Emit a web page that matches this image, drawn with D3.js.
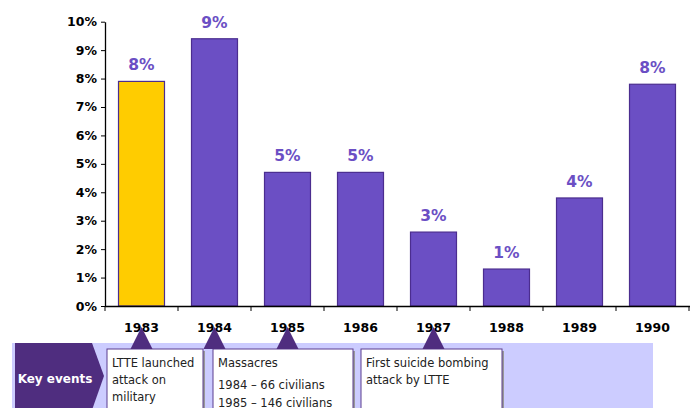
<!DOCTYPE html>
<html><head><meta charset="utf-8">
<script src="https://cdn.jsdelivr.net/npm/d3@7"></script>
<style>body{margin:0;background:#fff}svg{display:block}</style>
</head><body>
<svg id="c" width="690" height="408"></svg>
<script>
const years = ["1983","1984","1985","1986","1987","1988","1989","1990"];
const values = [7.9, 9.4, 4.7, 4.7, 2.6, 1.3, 3.8, 7.8];
const labels = ["8%","9%","5%","5%","3%","1%","4%","8%"];
const yTicks = [0,1,2,3,4,5,6,7,8,9,10];
const highlight = ["1983"];
const events = [
  {lines:["LTTE launched","attack on","military"], years:["1983"]},
  {lines:["Massacres","1984 – 66 civilians","1985 – 146 civilians"], years:["1984","1985"]},
  {lines:["First suicide bombing","attack by LTTE"], years:["1987"]}
];

const svg = d3.select("#c");
const font = "DejaVu Sans, Verdana, sans-serif";
const x = d3.scaleBand().domain(years).range([105, 689]).paddingInner(0.37).paddingOuter(0.185);
const y = d3.scaleLinear().domain([0, 10]).range([306, 21.7]);

// y axis
const ya = svg.append("g").attr("transform","translate(105,0)")
  .call(d3.axisLeft(y).tickValues(yTicks).tickFormat(d=>d+"%").tickSize(4).tickSizeOuter(0));
ya.select(".domain").attr("stroke","#000").attr("stroke-width",1.3);
ya.selectAll(".tick line").attr("stroke","#000");
ya.selectAll(".tick text").attr("font-family",font).attr("font-weight","bold")
  .attr("font-size","12.5px").attr("fill","#000").attr("x",-8);

// bars
svg.selectAll("rect.bar").data(years).join("rect").attr("class","bar")
  .attr("x", d=>x(d)).attr("width", x.bandwidth())
  .attr("y", (d,i)=>y(values[i])).attr("height",(d,i)=>y(0)-y(values[i]))
  .attr("fill", d=>highlight.includes(d)?"#FFCC00":"#6B4FC4")
  .attr("stroke","#4B2D8F").attr("stroke-width",1.2);

// value labels
svg.selectAll("text.val").data(years).join("text").attr("class","val")
  .attr("x", d=>x(d)+x.bandwidth()/2).attr("y",(d,i)=>y(values[i])-11)
  .attr("text-anchor","middle").attr("font-family",font).attr("font-weight","bold")
  .attr("font-size","15.5px").attr("fill","#6B4FC4").text((d,i)=>labels[i]);

// x axis
const step = x.step();
const xa = svg.append("g");
xa.append("line").attr("x1",105).attr("x2",690).attr("y1",306.5).attr("y2",306.5).attr("stroke","#000").attr("stroke-width",1.3);
years.forEach((d,i)=>{
  const bx = x(d) - x.paddingOuter()*step + step; // right boundary of band
  xa.append("line").attr("x1",bx).attr("x2",bx).attr("y1",306).attr("y2",311).attr("stroke","#000");
});
xa.append("line").attr("x1",105).attr("x2",105).attr("y1",306).attr("y2",311).attr("stroke","#000");
svg.selectAll("text.yr").data(years).join("text").attr("class","yr")
  .attr("x", d=>x(d)+x.bandwidth()/2).attr("y",332)
  .attr("text-anchor","middle").attr("font-family",font).attr("font-weight","bold")
  .attr("font-size","12.5px").attr("fill","#000").text(d=>d);

// key events band
svg.append("rect").attr("x",12).attr("y",343).attr("width",641).attr("height",70).attr("fill","#CCCCFF");
svg.append("path").attr("d","M15,343 L92,343 L104,376 L92,410 L15,410 Z").attr("fill","#4F2D7F");
svg.append("text").attr("x",55).attr("y",383).attr("text-anchor","middle").attr("font-family",font)
  .attr("font-weight","bold").attr("font-size","12px").attr("fill","#fff").text("Key events");

const boxes = [[107,203],[213,353],[361,502]];
events.forEach((e,i)=>{
  const [x0,x1] = boxes[i];
  svg.append("rect").attr("x",x0+2).attr("y",351).attr("width",x1-x0).attr("height",70).attr("fill","#999");
  svg.append("rect").attr("x",x0).attr("y",349).attr("width",x1-x0).attr("height",70)
    .attr("fill","#fff").attr("stroke","#5B3D8F").attr("stroke-width",1);
  e.years.forEach(yr=>{
    const cx = x(yr)+x.bandwidth()/2;
    svg.append("path").attr("d",`M${cx-11},349 L${cx},327 L${cx+11},349 Z`).attr("fill","#4F2D7F");
  });
  const lh = i===1 ? [0,22,40] : [0,17,34];
  e.lines.forEach((t,j)=>{
    svg.append("text").attr("x",x0+5).attr("y",367+lh[j]).attr("font-family",font)
      .attr("font-size","11.5px").attr("fill","#222").text(t);
  });
});
</script>
</body></html>
